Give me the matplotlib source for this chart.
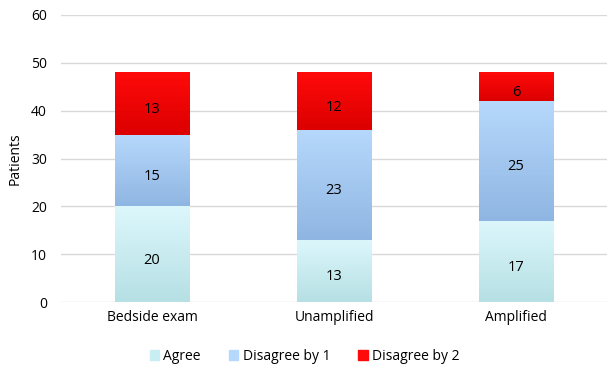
import matplotlib
matplotlib.use("Agg")
import matplotlib.pyplot as plt
import matplotlib.transforms as mtransforms
import numpy as np
from matplotlib.colors import LinearSegmentedColormap

categories = ["Bedside exam", "Unamplified", "Amplified"]
agree = [20, 13, 17]
disagree1 = [15, 23, 25]
disagree2 = [13, 12, 6]

series = [("Agree", agree, "#dcf7fc", "#b6e0e4"),
          ("Disagree by 1", disagree1, "#b6d8fc", "#8fb6e2"),
          ("Disagree by 2", disagree2, "#ff0a0a", "#dc0000")]

plt.rcParams['font.family'] = ['Open Sans', 'DejaVu Sans']
fig = plt.figure(figsize=(6.09, 3.70), dpi=100)
ax = fig.add_axes([61/609, (370-302)/370, (607-61)/609, (302-15)/370])

label_tr = mtransforms.offset_copy(ax.transData, fig=fig, x=0, y=-6, units='dots')

x = np.arange(len(categories))
bottom = np.zeros(len(categories))
handles = []
for name, vals, ctop, cbot in series:
    bars = ax.bar(x, vals, 0.41, bottom=bottom, color=ctop, edgecolor='none', zorder=2, label=name)
    cmap = LinearSegmentedColormap.from_list(name, [cbot, ctop])
    grad = np.linspace(0, 1, 100).reshape(-1, 1)
    for b, v, bt in zip(bars, vals, bottom):
        bx, by = b.get_x(), b.get_y()
        w, h = b.get_width(), b.get_height()
        im = ax.imshow(grad, cmap=cmap, origin='lower', aspect='auto',
                       extent=[bx, bx + w, by, by + h], zorder=3)
        im.set_clip_path(b)
        ax.text(bx + w / 2, by + h / 2, str(v), ha='center', va='center',
                fontsize=10.5, color='black', zorder=5, transform=label_tr)
    handles.append(plt.Rectangle((0, 0), 1, 1, color=ctop if name != "Agree" else "#c8edf2"))
    bottom = bottom + np.array(vals)

ax.set_xlim(-0.5, 2.5)
ax.set_ylim(0, 60)
ax.set_yticks(range(0, 61, 10))
ax.set_xticks(x)
ax.set_xticklabels(categories, fontsize=10)
ax.tick_params(axis='y', labelsize=10, length=0, pad=10)
ax.tick_params(axis='x', length=0, pad=6)
ax.grid(axis='y', color='#d9d9d9', linewidth=1, zorder=0)
ax.set_axisbelow(True)
for s in ax.spines.values():
    s.set_visible(False)
ax.set_ylabel("Patients", fontsize=10, labelpad=6)

fig.legend(handles, [s[0] for s in series], loc='center', bbox_to_anchor=(0.5, (370-356)/370),
           ncol=3, frameon=False, fontsize=10, handlelength=0.7, handleheight=0.7,
           handletextpad=0.3, columnspacing=2.0)

fig.savefig("out.png", dpi=100)
